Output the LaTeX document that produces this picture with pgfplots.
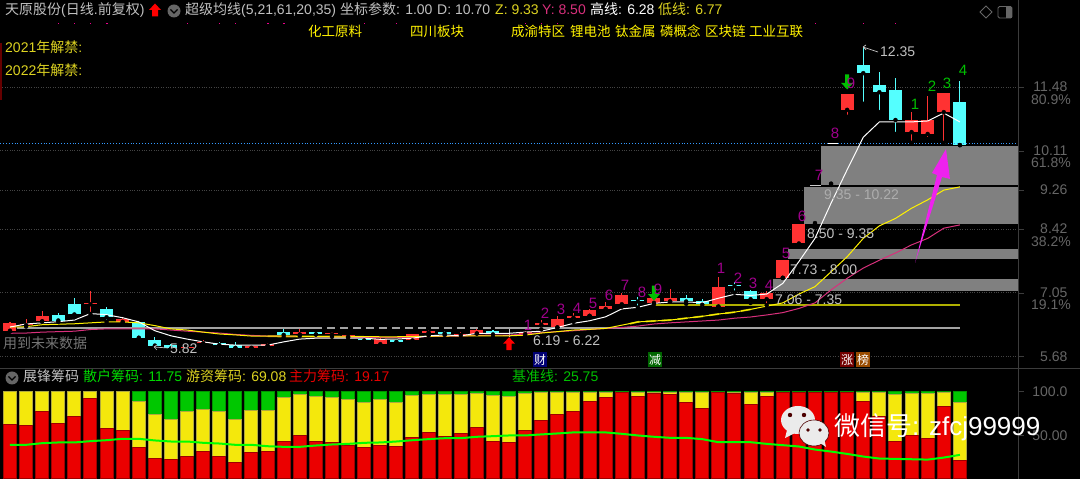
\documentclass[border=0pt]{standalone}
\usepackage{fontspec}
\setmainfont{Liberation Sans}
\newfontfamily\cjk{Noto Sans CJK SC}
\usepackage{pgfplots}
\usepackage{pgfplotstable}
\pgfplotsset{compat=1.18}

\definecolor{upred}{HTML}{FF3232}
\definecolor{dncy}{HTML}{54FFFF}
\definecolor{magn}{HTML}{A0008C}
\definecolor{scalegray}{HTML}{666666}
\definecolor{linegray}{HTML}{3C3C3C}
\definecolor{griddot}{HTML}{444444}
\definecolor{boxgray}{HTML}{808080}
\definecolor{txtgray}{HTML}{C0C0C0}
\definecolor{olivey}{HTML}{AFAF00}
\definecolor{pinkma}{HTML}{D8307C}
\definecolor{bluedot}{HTML}{3399FF}
\definecolor{arrowm}{HTML}{EE22EE}

% x l b t h  (low, body bottom, body top, high)
\pgfplotstableread{
x l b t h
0 6.21 6.23 6.40 6.42
1 6.32 6.35 6.38 6.48
2 6.43 6.43 6.55 6.65
5 6.59 6.80 6.83 7.09
7 6.40 6.42 6.48 6.52
11 5.83 5.85 5.88 5.90
12 5.89 5.96 5.99 6.03
15 5.86 5.86 5.91 5.92
16 5.89 5.91 5.94 5.97
18 6.12 6.15 6.20 6.28
20 6.10 6.15 6.18 6.20
21 6.08 6.10 6.13 6.14
23 5.89 5.94 6.05 6.07
25 6.00 6.02 6.15 6.17
26 6.13 6.19 6.22 6.25
28 6.08 6.14 6.17 6.21
29 6.17 6.17 6.25 6.32
32 6.12 6.16 6.20 6.23
33 6.26 6.36 6.39 6.46
34 6.30 6.30 6.48 6.55
35 6.42 6.51 6.54 6.61
36 6.55 6.55 6.67 6.69
37 6.61 6.70 6.77 6.84
38 6.75 6.80 6.99 7.04
40 6.80 6.83 6.94 6.94
41 6.86 6.86 6.94 7.14
44 6.75 6.75 7.17 7.39
47 6.78 6.91 7.04 7.09
48 7.37 7.37 7.75 7.75
49 8.04 8.11 8.52 8.52
50 8.53 8.55 9.33 9.33
51 9.37 9.40 10.20 10.20
52 10.84 10.99 11.33 11.33
56 10.28 10.51 10.77 10.94
57 10.36 10.47 10.77 11.29
58 10.28 10.94 11.35 11.35
}\redcandles

\pgfplotstableread{
x l b t h
3 6.42 6.45 6.57 6.61
4 6.52 6.58 6.80 6.93
6 6.42 6.52 6.69 6.75
8 6.05 6.08 6.42 6.44
9 5.82 5.91 6.03 6.09
10 5.83 5.85 5.92 5.94
13 5.85 5.92 5.97 5.99
14 5.85 5.86 5.92 5.98
17 6.09 6.14 6.20 6.30
19 6.15 6.15 6.20 6.20
22 5.97 6.02 6.05 6.07
24 5.96 5.99 6.02 6.05
27 6.14 6.17 6.20 6.23
30 6.09 6.15 6.22 6.25
39 6.73 6.86 6.89 6.95
42 6.81 6.86 6.94 7.00
43 6.70 6.79 6.88 6.91
45 7.05 7.19 7.22 7.27
46 6.83 6.91 7.09 7.11
53 11.12 11.78 11.96 12.35
54 10.94 11.37 11.53 11.81
55 10.47 10.77 11.42 11.68
59 10.23 10.23 11.16 11.61
}\cyancandles

% moving averages
\pgfplotstableread{
x ma5 ma21 ma61
0 6.31 6.31 6.175
1 6.375 6.317 6.18
2 6.40 6.36 6.20
3 6.425 6.37 6.21
4 6.46 6.38 6.22
5 6.60 6.40 6.256
6 6.575 6.42 6.27
7 6.51 6.42 6.27
8 6.42 6.40 6.27
9 6.23 6.34 6.27
10 6.12 6.27 6.245
11 6.05 6.245 6.22
12 5.99 6.20 6.20
13 5.94 6.16 6.18
14 5.92 6.14 6.15
15 5.92 6.115 6.13
16 5.92 6.115 6.115
17 5.99 6.115 6.11
18 6.05 6.11 6.105
19 6.07 6.105 6.10
20 6.07 6.10 6.10
21 6.07 6.10 6.095
22 6.07 6.105 6.08
23 6.045 6.10 6.08
24 6.05 6.10 6.085
25 6.07 6.105 6.09
26 6.12 6.11 6.105
27 6.14 6.115 6.11
28 6.12 6.12 6.115
29 6.175 6.12 6.13
30 6.175 6.12 6.135
31 6.175 6.12 6.135
32 6.20 6.135 6.16
33 6.22 6.18 6.19
34 6.30 6.21 6.21
35 6.39 6.245 6.23
36 6.445 6.26 6.256
37 6.53 6.28 6.28
38 6.70 6.35 6.30
39 6.735 6.42 6.33
40 6.82 6.44 6.375
41 6.85 6.46 6.40
42 6.85 6.50 6.42
43 6.835 6.54 6.44
44 6.93 6.59 6.46
45 7.015 6.63 6.50
46 6.99 6.69 6.526
47 7.02 6.76 6.57
48 7.25 6.83 6.62
49 7.72 7.02 6.71
50 8.22 7.18 6.83
51 8.98 7.50 7.11
52 9.70 7.825 7.36
53 10.40 8.22 7.58
54 10.73 8.49 7.75
55 10.73 8.65 7.905
56 10.73 8.87 8.08
57 10.75 9.05 8.22
58 10.92 9.26 8.44
59 10.73 9.33 8.51
}\malines

% chip panel: red = main force, top = red + hot money, rest to 100 is retail; base = green line
\pgfplotstableread{
x red top base
0 62.5 100 39.1
1 61 100 39.1
2 77 100 41
3 63.6 100 41.8
4 71.6 100 41.8
5 91.6 100 43.3
6 57.5 100 44.4
7 56 100 46
8 36 89 46
9 24 74.3 44.1
10 22 67.8 42.9
11 25.7 77 42.9
12 31 79.7 41.4
13 25.7 77 40.6
14 19 67.8 39.1
15 30 78 39.1
16 31 78 37.5
17 42.5 92.7 36.8
18 49.4 96.5 36.8
19 42.5 94 38.3
20 41.4 92.7 39.5
21 38.7 90.4 40.2
22 36 87.7 41.4
23 38.7 90.4 41.8
24 37 87.7 42.9
25 47.9 95.4 44.4
26 53 96.5 45.6
27 49 96.5 46.7
28 51.7 96.5 46.7
29 58.6 97.7 48.3
30 42.5 95.4 49
31 41.4 94.3 49.8
32 56 97.7 49.8
33 66.7 99.2 51
34 74.3 99.2 52.1
35 77 99.2 53.3
36 88.9 99.2 53.3
37 92.7 99.2 53.3
38 99 99.5 51.7
39 94.3 99.2 49.8
40 97.7 99.2 48.3
41 96.5 99.2 47.1
42 87.7 99.2 47.1
43 80.8 99.2 45.6
44 99 99.5 42.1
45 97.7 99.2 42.1
46 85 99.2 42.1
47 94.3 99.2 40.2
48 99.2 99.5 38.7
49 99.2 99.5 37.2
50 99.2 99.5 33.7
51 99.2 99.5 31.4
52 99.2 99.5 28.7
53 88.9 99.2 25.7
54 71.6 99.2 23.4
55 42.5 96.5 23
56 49.4 98 22.6
57 46.7 98 22.2
58 83.5 99.2 24.5
59 20.7 87.7 27.6
}\chips

\pgfdeclareplotmark{uparr}{%
  \pgfpathmoveto{\pgfqpoint{0pt}{7pt}}\pgfpathlineto{\pgfqpoint{6pt}{0.5pt}}%
  \pgfpathlineto{\pgfqpoint{2.6pt}{0.5pt}}\pgfpathlineto{\pgfqpoint{2.6pt}{-6pt}}%
  \pgfpathlineto{\pgfqpoint{-2.6pt}{-6pt}}\pgfpathlineto{\pgfqpoint{-2.6pt}{0.5pt}}%
  \pgfpathlineto{\pgfqpoint{-6pt}{0.5pt}}\pgfpathclose\pgfusepathqfill}
\pgfdeclareplotmark{dnarr}{%
  \pgfpathmoveto{\pgfqpoint{0pt}{-7pt}}\pgfpathlineto{\pgfqpoint{6pt}{-0.5pt}}%
  \pgfpathlineto{\pgfqpoint{2pt}{-0.5pt}}\pgfpathlineto{\pgfqpoint{2pt}{8pt}}%
  \pgfpathlineto{\pgfqpoint{-2pt}{8pt}}\pgfpathlineto{\pgfqpoint{-2pt}{-0.5pt}}%
  \pgfpathlineto{\pgfqpoint{-6pt}{-0.5pt}}\pgfpathclose\pgfusepathqfill}

\newcommand{\C}[1]{{\cjk #1}}
\newcommand{\T}[4]{\node[anchor=west,inner sep=0pt,text height=10pt,text depth=3pt,text=#1,font=\fontsize{14}{14}\selectfont] at (#2,#3) {#4};}
\newcommand{\Y}[3]{\node[anchor=west,inner sep=0pt,text height=10pt,text depth=3pt,text=yellow,font=\fontsize{13.5}{14}\selectfont] at (#1,#2) {\C{#3}};}
\newcommand{\N}[4]{\node[anchor=center,inner sep=0pt,text=#1,font=\fontsize{15}{15}\selectfont] at (#2,#3) {#4};}
\newcommand{\R}[2]{\node[anchor=east,inner sep=0pt,text=scalegray,font=\fontsize{14}{14}\selectfont] at (1071,#1) {#2};}
\newcommand{\Tag}[3]{\node[anchor=center,fill=#1,inner sep=0.8pt,minimum width=14.5pt,minimum height=15pt,text=white,font=\fontsize{12}{12}\selectfont] at (#2,360) {\C{#3}};}

\pgfplotsset{
  panel/.style={scale only axis, width=1018pt, xmin=-0.621, xmax=62.61,
    axis y line=right, axis x line=none, axis line style={draw=linegray,-},
    tick style={draw=linegray}, tick align=outside, major tick length=6pt,
    yticklabel style={anchor=east, xshift=47pt, text=scalegray, font=\fontsize{14}{14}\selectfont},
    clip=true},
  wick/.style={only marks, mark=none, forget plot, error bars/.cd, y dir=plus, y explicit,
    error mark=none, error bar style={draw=#1, line width=1.1pt}},
  body/.style={only marks, mark=none, forget plot, error bars/.cd, y dir=plus, y explicit,
    error mark=none, error bar style={draw=#1, line width=13pt}},
}

\begin{document}
\begin{tikzpicture}
\useasboundingbox (0pt,0pt) rectangle (1080pt,479pt);
\fill[black] (0pt,0pt) rectangle (1080pt,479pt);

% price panel
\begin{axis}[panel, at={(0pt,111pt)}, anchor=south west, height=368pt,
  ymin=5.427, ymax=13.357,
  ytick={5.68,7.05,8.42,9.26,10.11,11.48},
  yticklabels={5.68,7.05,8.42,9.26,10.11,11.48},
  ymajorgrids, grid style={draw=griddot, dotted, line width=0.6pt}]

  \addplot[wick=upred] table[x=x, y=l, y error plus expr=\thisrow{h}-\thisrow{l}] {\redcandles};
  \addplot[body=upred] table[x=x, y=b, y error plus expr=\thisrow{t}-\thisrow{b}] {\redcandles};
  \addplot[wick=dncy] table[x=x, y=l, y error plus expr=\thisrow{h}-\thisrow{l}] {\cyancandles};
  \addplot[body=dncy] table[x=x, y=b, y error plus expr=\thisrow{t}-\thisrow{b}] {\cyancandles};
  % doji on the low
  \addplot[txtgray, line width=1pt, forget plot] coordinates {(31,6.10) (31,6.30)};
  \addplot[txtgray, line width=1.2pt, forget plot] coordinates {(30.6,6.13) (31.4,6.13)};

  % price gap boxes
  \addplot[fill=boxgray, draw=none, forget plot] coordinates {(50.37,9.37) (62.61,9.37) (62.61,10.20) (50.37,10.20)} -- cycle;
  \addplot[fill=boxgray, draw=none, forget plot] coordinates {(49.31,8.53) (62.61,8.53) (62.61,9.33) (49.31,9.33)} -- cycle;
  \addplot[fill=boxgray, draw=none, forget plot] coordinates {(48.32,7.77) (62.61,7.77) (62.61,8.00) (48.32,8.00)} -- cycle;
  \addplot[fill=boxgray, draw=none, forget plot] coordinates {(47.39,7.09) (62.61,7.09) (62.61,7.34) (47.39,7.34)} -- cycle;

  % high and low lines
  \addplot[draw=txtgray!85!black, line width=2pt, forget plot] coordinates {(0.43,6.28) (18.9,6.28)};
  \addplot[draw=txtgray!85!black, line width=2pt, dash pattern=on 8pt off 5pt, forget plot] coordinates {(18.9,6.28) (30.1,6.28)};
  \addplot[draw=txtgray!85!black, line width=2pt, forget plot] coordinates {(30.1,6.28) (59,6.28)};
  \addplot[draw=olivey, line width=1.8pt, forget plot] coordinates {(40,6.785) (59,6.785)};
  \addplot[draw=olivey, line width=1.8pt, forget plot] coordinates {(16,6.11) (22,6.10)};
  \addplot[draw=olivey, line width=1.8pt, dash pattern=on 10pt off 6pt, forget plot] coordinates {(38.5,6.38) (39,6.42) (40,6.44) (41,6.46) (42,6.50) (43,6.54) (44,6.59) (45,6.63) (46,6.69)};

  % blue current price line
  \addplot[draw=bluedot, line width=0.9pt, dotted, forget plot] coordinates {(-0.621,10.275) (62.61,10.275)};
  \addplot[draw=white, line width=0.8pt, forget plot] coordinates {(50.8,10.275) (51.4,10.275)};
  \addplot[draw=white!80!black, line width=0.8pt, forget plot] coordinates {(49.7,9.37) (50.37,9.37)};

  % moving averages
  \addplot[draw=pinkma, line width=1pt, forget plot] table[x=x, y=ma61] {\malines};
  \addplot[draw=yellow, line width=1pt, forget plot] table[x=x, y=ma21] {\malines};
  \addplot[draw=white, line width=1pt, forget plot] table[x=x, y=ma5] {\malines};

  % signal marks
  \addplot[only marks, mark=square*, mark size=1.2pt, mark options={fill=magenta, draw=none}, forget plot] coordinates {
    (3,12.86) (4,12.86) (5,12.86) (6,12.86) (11,12.86) (13,12.86) (14,12.86) (16,12.86)
    (17,12.86) (22,12.86) (24,12.86) (32,12.86) (33,12.86) (34,12.86) (50,12.86) (53,12.86) (55,12.86)};
  \addplot[only marks, mark=uparr, mark options={fill=red, draw=none}, forget plot] coordinates {(31,5.94)};
  \addplot[only marks, mark=dnarr, mark options={fill=green!75!black, draw=none}, forget plot] coordinates {(40,7.03) (52,11.58)};
\end{axis}

% chip panel
\begin{axis}[panel, at={(0pt,0pt)}, anchor=south west, height=111pt,
  ymin=0, ymax=127, ybar stacked, bar width=13pt, ytick=\empty]
  \addplot[fill=red!92!black, draw=red!62!black, line width=1pt]
    table[x=x, y=red] {\chips};
  \addplot[fill=yellow!95!black, draw=yellow!65!black, line width=1pt]
    table[x=x, y expr=\thisrow{top}-\thisrow{red}] {\chips};
  \addplot[fill=green!78!black, draw=green!58!black, line width=1pt]
    table[x=x, y expr=100-\thisrow{top}] {\chips};
\end{axis}
\begin{axis}[panel, at={(0pt,0pt)}, anchor=south west, height=111pt,
  ymin=0, ymax=127, ytick={50,100}, yticklabels={50.00,100.0}]
  \addplot[draw=green, line width=2pt] table[x=x, y=base] {\chips};
\end{axis}

% texts and annotations, in reference pixels
\begin{scope}[x=1pt, y=-1pt, shift={(0pt,479pt)}]
  \fill[red!40!black] (0,43) rectangle (2,100);
  \draw[linegray, line width=0.8pt] (0,368.5) -- (1080,368.5);

  \T{txtgray}{5}{11}{\C{天原股份}(\C{日线}.\C{前复权})}
  \fill[red] (155,3.5) -- (161,10) -- (158,10) -- (158,16.5) -- (152,16.5) -- (152,10) -- (149,10) -- cycle;
  \fill[scalegray] (174,11) circle (6.5);
  \draw[black, line width=1.2pt] (170.5,9.5) -- (174,13) -- (177.5,9.5);
  \T{txtgray}{185}{11}{\C{超级均线}(5,21,61,20,35)}
  \T{txtgray}{340}{11}{\C{坐标参数}: 1.00}
  \T{txtgray}{437}{11}{D: 10.70}
  \T{yellow!85!black}{495}{11}{Z: 9.33}
  \T{pinkma}{542}{11}{Y: 8.50}
  \T{white}{590}{11}{\C{高线}: 6.28}
  \T{yellow!85!black}{658}{11}{\C{低线}: 6.77}
  \draw[scalegray, line width=0.8pt] (986,6) -- (992,12) -- (986,18) -- (980,12) -- cycle;
  \draw[scalegray, line width=0.8pt, rounded corners=1.5pt] (998,6.5) rectangle (1012,18);
  \fill[scalegray] (1006,7) rectangle (1012,18);

  \Y{308}{33}{化工原料}
  \Y{410}{33}{四川板块}
  \Y{511}{33}{成渝特区}
  \Y{570}{33}{锂电池}
  \Y{615}{33}{钛金属}
  \Y{660}{33}{磷概念}
  \Y{705}{33}{区块链}
  \Y{749}{33}{工业互联}
  \T{yellow!85!black}{5}{49}{2021\C{年解禁}:}
  \T{yellow!85!black}{5}{72}{2022\C{年解禁}:}

  \T{scalegray!90!white}{3}{345}{\C{用到未来数据}}
  \T{txtgray}{533}{342}{6.19 - 6.22}
  \T{txtgray}{775}{301}{7.06 - 7.35}
  \T{txtgray}{790}{271}{7.73 - 8.00}
  \T{txtgray}{807}{235}{8.50 - 9.35}
  \T{txtgray!70!boxgray}{824}{196}{9.35 - 10.22}
  \T{txtgray}{880}{53}{12.35}
  \T{txtgray}{170}{350}{5.82}
  \draw[txtgray, line width=0.7pt] (863,47) -- (878,52) (863,47) -- (866,45) (863,47) -- (866,50);
  \draw[txtgray, line width=0.7pt] (154,347) -- (168,348) (154,347) -- (157,345) (154,347) -- (157,350);

  \N{magn}{528}{325}{1}
  \N{magn}{545}{313}{2}
  \N{magn}{561}{309}{3}
  \N{magn}{577}{308}{4}
  \N{magn}{593}{303}{5}
  \N{magn}{609}{295}{6}
  \N{magn}{625}{285}{7}
  \N{magn}{642}{292}{8}
  \N{magn}{658}{289}{9}
  \N{magn}{721}{268}{1}
  \N{magn}{738}{278}{2}
  \N{magn}{753}{283}{3}
  \N{magn}{769}{285}{4}
  \N{magn}{786}{253}{5}
  \N{magn}{802}{216}{6}
  \N{magn}{819}{175}{7}
  \N{magn}{835}{133}{8}
  \N{magn}{851}{83}{9}
  \N{green!75!black}{915}{104}{1}
  \N{green!75!black}{932}{86}{2}
  \N{green!75!black}{947}{83}{3}
  \N{green!75!black}{963}{70}{4}

  \fill[arrowm] (915,263) -- (937,175) -- (932,173) -- (946,149) -- (950,179) -- (942,177) -- cycle;

  \Tag{blue!45!black}{540}{财}
  \Tag{green!40!black}{655}{减}
  \Tag{red!45!black}{847}{涨}
  \Tag{orange!60!black}{863}{榜}

  \R{100}{80.9\%}
  \R{163}{61.8\%}
  \R{242}{38.2\%}
  \R{305}{19.1\%}

  % chip panel header
  \fill[scalegray] (12,378) circle (6.5);
  \draw[black, line width=1.2pt] (8.5,376.5) -- (12,380) -- (15.5,376.5);
  \T{txtgray}{23}{378}{\C{展锋筹码}}
  \T{green!85!black}{83}{378}{\C{散户筹码}: 11.75}
  \T{yellow!85!black}{186}{378}{\C{游资筹码}: 69.08}
  \T{red!90!black}{289}{378}{\C{主力筹码}: 19.17}
  \T{green!75!black}{512}{378}{\C{基准线}: 25.75}

  % watermark
  \fill[white!92!black] (798,420) ellipse (17 and 14);
  \fill[white!92!black] (787,430) -- (785,438) -- (795,433) -- cycle;
  \fill[red!30!black] (790,415) circle (2.2) (804,415) circle (2.2);
  \fill[white!92!black, draw=red!30!black, line width=0.6pt] (814,433) ellipse (15 and 13);
  \fill[white!92!black] (820,443) -- (826,447) -- (824,438) -- cycle;
  \fill[red!30!black] (808,430) circle (1.8) (820,430) circle (1.8);
  \node[anchor=west, inner sep=0pt, text=white, font=\fontsize{26}{26}\selectfont] at (834,427) {\C{微信号}: zfcj99999};
\end{scope}
\end{tikzpicture}
\end{document}
